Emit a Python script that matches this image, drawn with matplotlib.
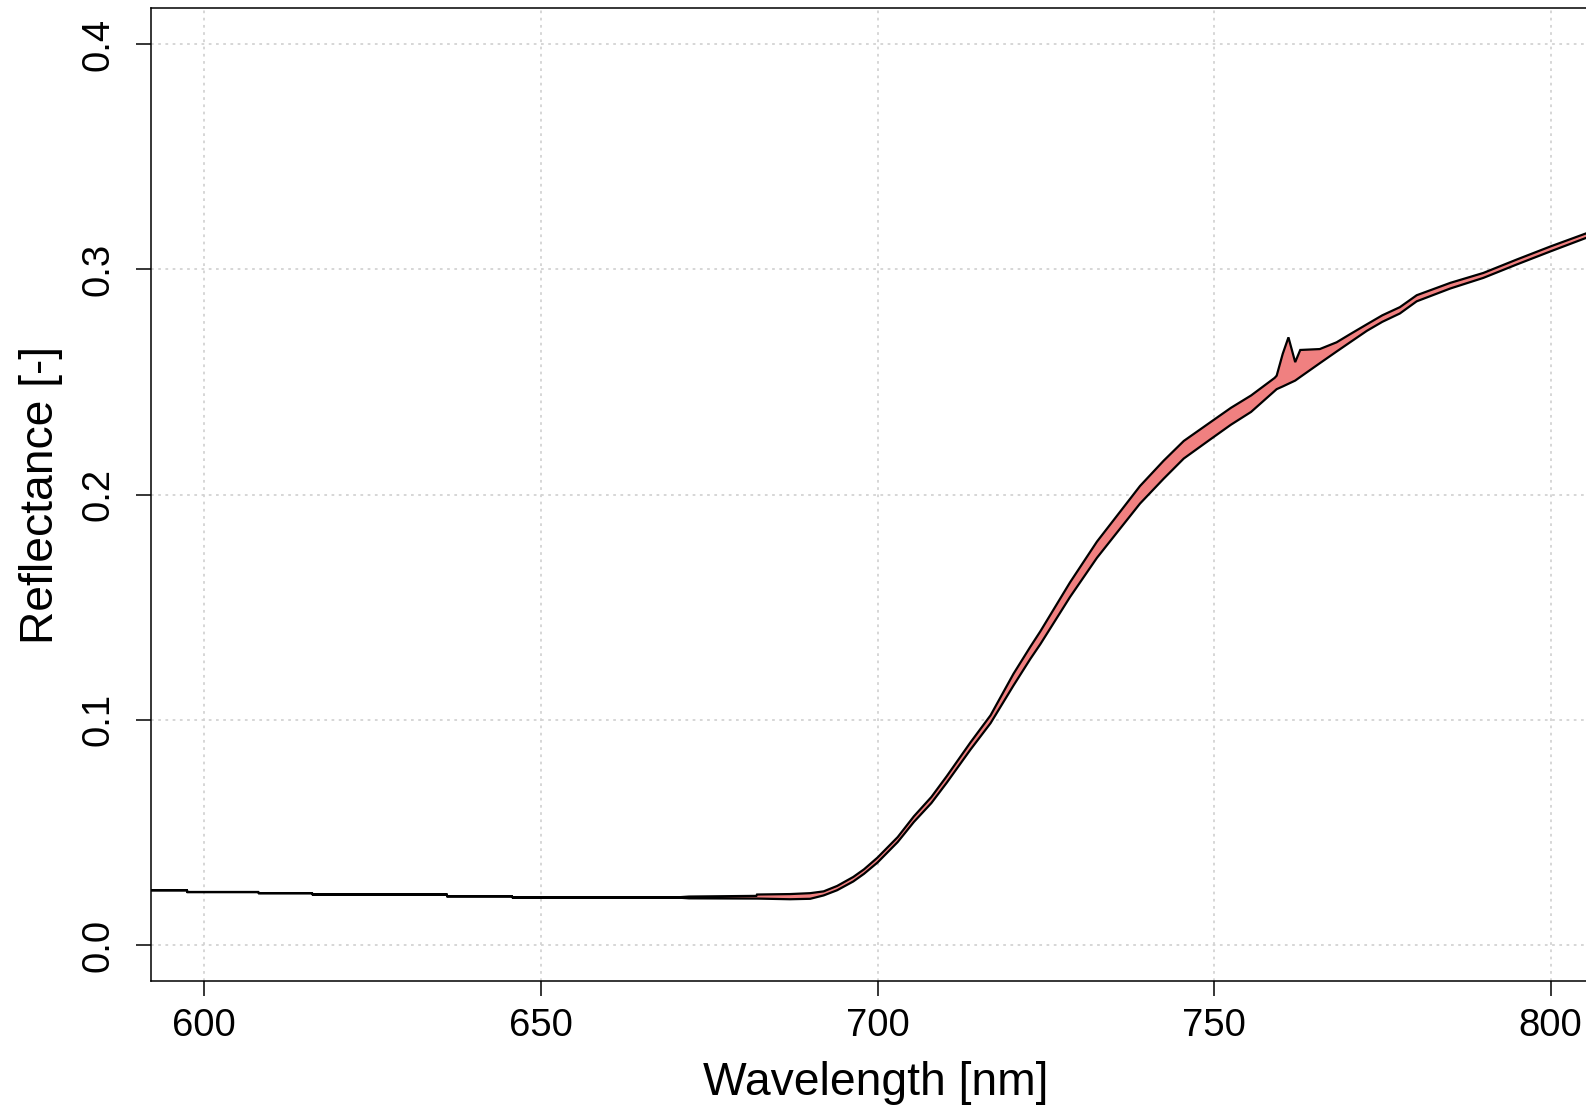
import numpy as np
import matplotlib
matplotlib.use("Agg")
import matplotlib.pyplot as plt

plt.rcParams['font.family'] = ['Liberation Sans', 'DejaVu Sans']

# ---- data ----
wavelength = [592.0, 597.4, 597.5, 608.0, 608.1, 616.0, 616.1, 636.0, 636.1,
              645.7, 645.8, 670.0, 672.0, 682.0, 682.1, 687.0, 690.0, 692.0,
              694.0, 696.4, 698.0, 700.0, 703.0, 705.4, 708.0, 710.3, 713.8,
              716.8, 720.2, 722.7, 724.2, 728.6, 732.6, 736.1, 739.0, 742.5,
              745.5, 749.4, 752.5, 755.5, 759.0, 759.3, 760.2, 761.05, 762.05,
              762.8, 765.7, 768.2, 770.2, 772.7, 775.0, 777.6, 780.1, 785.1,
              790.0, 795.0, 800.0, 805.3, 808.0]
refl_upper = [0.0243, 0.0243, 0.0235, 0.0235, 0.0230, 0.0230, 0.0224, 0.0224, 0.0216,
              0.0216, 0.0211, 0.0211, 0.0215, 0.0218, 0.0224, 0.0226, 0.0230, 0.0238,
              0.0262, 0.0302, 0.0336, 0.0388, 0.0479, 0.0571, 0.0657, 0.0750, 0.0899,
              0.1020, 0.1204, 0.1324, 0.1393, 0.1610, 0.1791, 0.1926, 0.2038, 0.2150,
              0.2238, 0.2320, 0.2385, 0.2440, 0.2518, 0.2528, 0.2625, 0.2698, 0.2588,
              0.2642, 0.2646, 0.2676, 0.2712, 0.2756, 0.2796, 0.2832, 0.2885, 0.2940,
              0.2984, 0.3044, 0.3102, 0.3160, 0.3189]
refl_lower = [0.0243, 0.0243, 0.0235, 0.0235, 0.0230, 0.0230, 0.0224, 0.0224, 0.0216,
              0.0216, 0.0211, 0.0211, 0.0207, 0.0206, 0.0206, 0.0203, 0.0205, 0.0220,
              0.0243, 0.0282, 0.0316, 0.0366, 0.0457, 0.0546, 0.0630, 0.0721, 0.0867,
              0.0985, 0.1152, 0.1270, 0.1336, 0.1545, 0.1719, 0.1851, 0.1960, 0.2070,
              0.2160, 0.2244, 0.2310, 0.2367, 0.2460, 0.2468, 0.2480, 0.2492, 0.2506,
              0.2522, 0.2583, 0.2635, 0.2676, 0.2727, 0.2767, 0.2804, 0.2858, 0.2915,
              0.2962, 0.3022, 0.3080, 0.3140, 0.3169]
x_ticks = [600, 650, 700, 750, 800]
y_ticks = [0.0, 0.1, 0.2, 0.3, 0.4]
x_label = "Wavelength [nm]"
y_label = "Reflectance [-]"

W, H = 1586, 1109
fig = plt.figure(figsize=(W / 100, H / 100), dpi=100)
fig.patch.set_facecolor('white')

left, right = 150.5 / W, 1604.5 / W
bottom, top = 1 - 981 / H, 1 - 8.1 / H
ax = fig.add_axes([left, bottom, right - left, top - bottom])

wl = np.asarray(wavelength)
up = np.asarray(refl_upper)
lo = np.asarray(refl_lower)

# grid (R grid(): dotted lightgray)
for xt in x_ticks:
    ax.axvline(xt, color='#D3D3D3', lw=1.3, ls=(0, (1.5, 2.5)), zorder=0)
for yt in y_ticks:
    ax.axhline(yt, color='#D3D3D3', lw=1.3, ls=(0, (1.5, 2.5)), zorder=0)

ax.fill(np.concatenate([wl, wl[::-1]]), np.concatenate([lo, up[::-1]]),
        facecolor='#F08080', edgecolor='black', lw=1.6, zorder=2,
        joinstyle='miter')

ax.set_xlim(592, 808)
ax.set_ylim(-0.016, 0.416)
ax.set_xticks(x_ticks)
ax.set_yticks(y_ticks)
ax.set_xticklabels([str(t) for t in x_ticks])
ax.set_yticklabels([f"{t:.1f}" for t in y_ticks], rotation=90, va='center')

ax.tick_params(axis='both', direction='out', length=10.8, width=1.1,
               labelsize=27.5, color='black')
ax.tick_params(axis='x', pad=9)
ax.tick_params(axis='y', pad=13.5)
for s in ax.spines.values():
    s.set_linewidth(1.1)
    s.set_color('black')

fig.text(876 / W, 1 - 1083 / H, x_label, ha='center', va='center', fontsize=33.3)
fig.text(41.5 / W, 1 - 494.5 / H, y_label, ha='center', va='center',
         rotation=90, fontsize=33.3)

fig.savefig('out.png', dpi=100, facecolor='white')
